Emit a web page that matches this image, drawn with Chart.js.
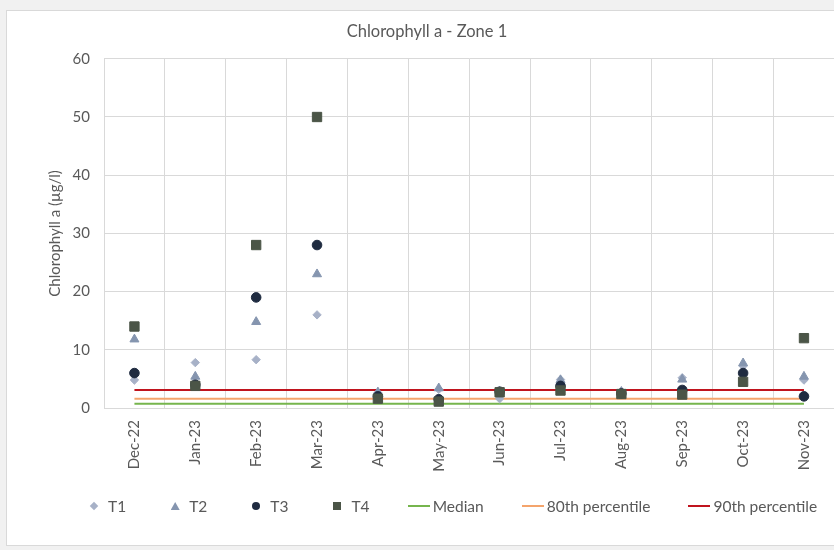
<!DOCTYPE html>
<html>
<head>
<meta charset="utf-8">
<script src="https://cdn.jsdelivr.net/npm/chart.js@4/dist/chart.umd.min.js"></script>
<style>
    html, body {
        margin: 0;
        padding: 0;
        width: 834px;
        height: 550px;
        overflow: hidden;
        background: #f1f1f1;
        font-family: Lato, 'Open Sans', sans-serif;
    }
    #panel {
        position: absolute;
        left: 6px;
        top: 10px;
        width: 840px;
        height: 534px;
        background: #fff;
        border: 1px solid #d9d9d9;
    }
    #wrap {
        position: absolute;
        left: 0;
        top: 0;
        width: 842px;
        height: 550px;
    }
    #legend {
        position: absolute;
        left: 83px;
        top: 497px;
        display: flex;
        gap: 38px;
        font-size: 15.5px;
        color: #595959;
        line-height: 18px;
    }
    #legend .item { display: flex; align-items: center; }
    #legend .sym {
        width: 22px;
        height: 18px;
        display: flex;
        align-items: center;
        justify-content: center;
        margin-right: 3px;
    }
</style>
</head>
<body>
<div id="panel"></div>
<div id="wrap"><canvas id="chlaChart" width="842" height="550"></canvas></div>
<div id="legend"></div>
<script>
// Monthly sampling, Zone 1
const months = ['Dec-22', 'Jan-23', 'Feb-23', 'Mar-23', 'Apr-23', 'May-23', 'Jun-23', 'Jul-23', 'Aug-23', 'Sep-23', 'Oct-23', 'Nov-23'];

// Chlorophyll a per site (µg/l)
const t1 = [4.8, 7.8, 8.3, 16, 2.6, 3.2, 1.6, 4.9, 2.8, 5.2, 7.2, 4.8];
const t2 = [11.8, 5.4, 14.8, 23, 2.7, 3.4, 2.8, 4.8, 2.8, 4.9, 7.7, 5.4];
const t3 = [6, 4, 19, 28, 2, 1.5, 2.8, 3.8, 2.5, 3.1, 6, 2];
const t4 = [14, 3.8, 28, 50, 1.6, 1.1, 2.7, 3, 2.4, 2.3, 4.5, 12];

// Reference levels
const median = [0.75, 0.75, 0.75, 0.75, 0.75, 0.75, 0.75, 0.75, 0.75, 0.75, 0.75, 0.75];
const pct80 = [1.6, 1.6, 1.6, 1.6, 1.6, 1.6, 1.6, 1.6, 1.6, 1.6, 1.6, 1.6];
const pct90 = [3.1, 3.1, 3.1, 3.1, 3.1, 3.1, 3.1, 3.1, 3.1, 3.1, 3.1, 3.1];

const yTicks = [0, 10, 20, 30, 40, 50, 60];

const grey = '#595959';
const gridColor = '#d9d9d9';

function sites(label, data, color, style, radius, order) {
    return {
        label: label,
        data: data,
        showLine: false,
        pointStyle: style,
        pointRadius: radius,
        pointBackgroundColor: color,
        pointBorderColor: color,
        pointBorderWidth: 1,
        borderColor: color,
        backgroundColor: color,
        order: order
    };
}

function level(label, data, color, order) {
    return {
        label: label,
        data: data,
        borderColor: color,
        backgroundColor: color,
        borderWidth: 2,
        pointRadius: 0,
        fill: false,
        order: order
    };
}

const datasets = [
    sites('T1', t1, '#a7b1c7', 'rectRot', 4.2, 3),
    sites('T2', t2, '#8595af', 'triangle', 5.2, 2),
    sites('T3', t3, '#1f2b40', 'circle', 4.8, 1),
    sites('T4', t4, '#4b5547', 'rect', 6.6, 0),
    level('Median', median, '#76b54d', 6),
    level('80th percentile', pct80, '#f4a46c', 5),
    level('90th percentile', pct90, '#c0141e', 4)
];

const ctx = document.getElementById('chlaChart').getContext('2d');
new Chart(ctx, {
    type: 'line',
    data: {
        labels: months,
        datasets: datasets
    },
    options: {
        responsive: false,
        animation: false,
        layout: {
            padding: { left: 18, right: 6, top: 14, bottom: 62 }
        },
        plugins: {
            legend: { display: false },
            tooltip: { enabled: false },
            title: {
                display: true,
                text: 'Chlorophyll a - Zone 1',
                color: grey,
                font: { family: 'Lato', size: 16.5, weight: 'normal' },
                padding: { top: 8, bottom: 17 }
            }
        },
        scales: {
            x: {
                type: 'category',
                offset: true,
                grid: { offset: true, color: gridColor, drawTicks: false },
                border: { color: gridColor },
                ticks: {
                    color: grey,
                    font: { family: 'Lato', size: 15 },
                    minRotation: 90,
                    maxRotation: 90,
                    padding: 12
                },
                afterFit: (scale) => { scale.height = 80; }
            },
            y: {
                min: 0,
                max: 60,
                afterBuildTicks: (scale) => { scale.ticks = yTicks.map(v => ({ value: v })); },
                grid: { color: gridColor, drawTicks: false },
                border: { color: gridColor },
                ticks: {
                    color: grey,
                    font: { family: 'Lato', size: 15 },
                    padding: 14
                },
                title: {
                    display: true,
                    text: 'Chlorophyll a (µg/l)',
                    color: grey,
                    font: { family: 'Lato', size: 15 },
                    padding: { top: 28, bottom: 0 }
                },
                afterFit: (scale) => { scale.width = 86; }
            }
        }
    }
});

// Legend row built from the same dataset list
const legend = document.getElementById('legend');
datasets.forEach(ds => {
    const item = document.createElement('div');
    item.className = 'item';
    const sym = document.createElement('span');
    sym.className = 'sym';
    const mark = document.createElement('span');
    const c = ds.borderColor;
    if (ds.showLine === false) {
        if (ds.pointStyle === 'rectRot') {
            mark.style.cssText = `width:6px;height:6px;background:${c};transform:rotate(45deg);`;
        } else if (ds.pointStyle === 'triangle') {
            mark.style.cssText = `width:9px;height:8px;background:${c};clip-path:polygon(50% 0,100% 100%,0 100%);`;
        } else if (ds.pointStyle === 'circle') {
            mark.style.cssText = `width:8px;height:8px;background:${c};border-radius:50%;`;
        } else {
            mark.style.cssText = `width:8px;height:8px;background:${c};`;
        }
    } else {
        mark.style.cssText = `width:22px;height:2px;background:${c};`;
    }
    sym.appendChild(mark);
    const txt = document.createElement('span');
    txt.textContent = ds.label;
    item.appendChild(sym);
    item.appendChild(txt);
    legend.appendChild(item);
});
</script>
</body>
</html>
